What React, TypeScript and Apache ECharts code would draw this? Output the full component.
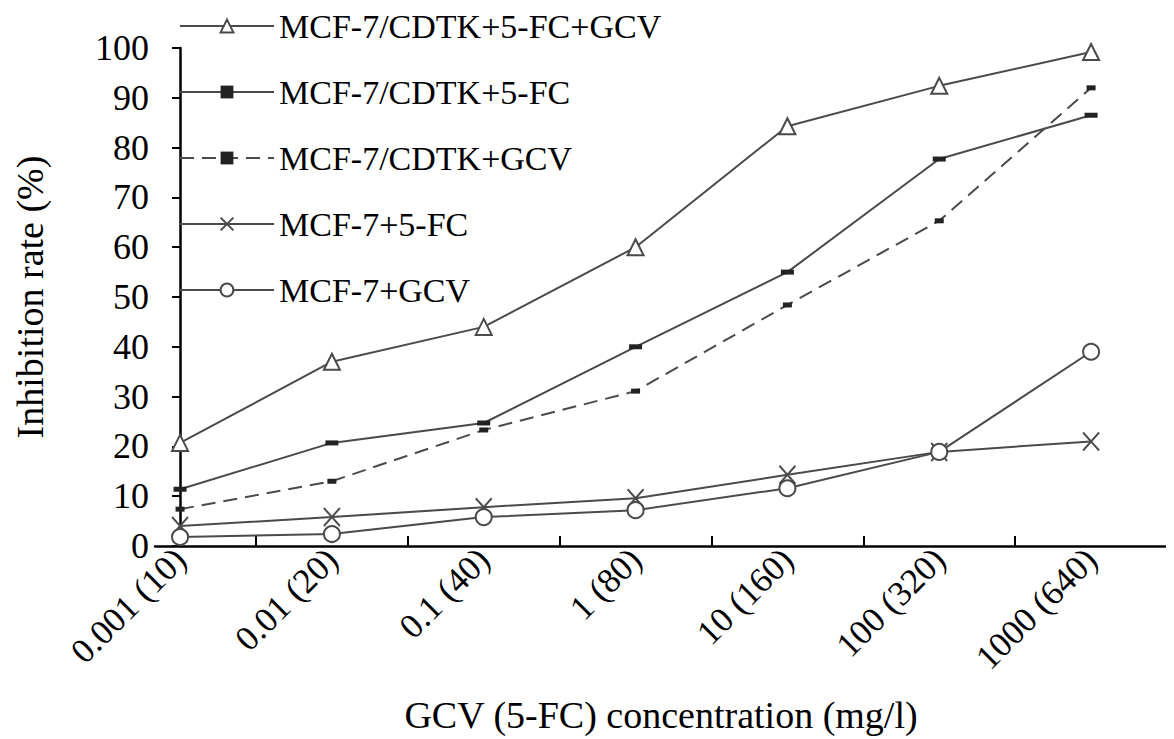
import { useEffect, useRef } from 'react'
import * as echarts from 'echarts'

const categories = ['0.001 (10)', '0.01 (20)', '0.1 (40)', '1 (80)', '10 (160)', '100 (320)', '1000 (640)']
const tickPositions = [0.5, 1.5, 2.5, 3.5, 4.5, 5.5, 6.5]
const seriesNames = ['MCF-7/CDTK+5-FC+GCV', 'MCF-7/CDTK+5-FC', 'MCF-7/CDTK+GCV', 'MCF-7+5-FC', 'MCF-7+GCV']
const cdtk5fcGcv = [20.7, 37, 44, 60, 84.3, 92.4, 99.2]
const cdtk5fc = [11.4, 20.7, 24.7, 40, 55, 77.7, 86.5]
const cdtkGcv = [7.4, 13, 23.3, 31.1, 48.4, 65.3, 92]
const mcf5fc = [4, 5.8, 7.8, 9.6, 14.3, 18.9, 21]
const mcfGcv = [1.8, 2.4, 5.8, 7.2, 11.6, 18.9, 39]

const FONT = '"Liberation Serif", "Times New Roman", serif'
const LINE = '#4a4a4a'

function pts(vals: number[]) {
  return vals.map((v, i) => [i, v])
}

export default function App() {
  const ref = useRef<HTMLDivElement | null>(null)

  useEffect(() => {
    if (!ref.current) return
    const chart = echarts.init(ref.current, null, { renderer: 'svg' })
    const base = {
      type: 'line',
      lineStyle: { color: LINE, width: 2 },
      symbolSize: 16,
    }
    chart.setOption({
      animation: false,
      textStyle: { fontFamily: FONT, color: '#000' },
      grid: { left: 147, right: 7, top: 40, bottom: 193, outerBoundsMode: 'none' },
      legend: {
        orient: 'vertical',
        left: 166,
        top: -4,
        itemWidth: 94,
        itemHeight: 16,
        itemGap: 32,
        textStyle: { fontFamily: FONT, fontSize: 34, color: '#000' },
        data: seriesNames,
      },
      xAxis: {
        type: 'value',
        min: -0.165,
        max: 6.5,
        splitLine: { show: false },
        axisLine: { onZero: false, lineStyle: { color: '#000', width: 2.5 } },
        axisTick: {
          inside: true,
          length: 10,
          customValues: tickPositions,
          lineStyle: { color: '#000', width: 2 },
        },
        axisLabel: {
          customValues: categories.map((_, i) => i),
          formatter: (v: number) => categories[Math.round(v)] ?? '',
          rotate: 45,
          margin: 8,
          fontSize: 35,
          fontFamily: FONT,
          color: '#000',
        },
        name: 'GCV (5-FC) concentration (mg/l)',
        nameLocation: 'middle',
        nameGap: 150,
        nameTextStyle: { fontSize: 38, fontFamily: FONT, color: '#000' },
      },
      yAxis: {
        type: 'value',
        min: 0,
        max: 100,
        interval: 10,
        splitLine: { show: false },
        axisLine: { show: true, lineStyle: { color: '#000', width: 2.5 } },
        axisTick: { show: true, length: 8, lineStyle: { color: '#000', width: 2 } },
        axisLabel: { fontSize: 36, fontFamily: FONT, color: '#000', margin: 6 },
        name: 'Inhibition rate (%)',
        nameLocation: 'middle',
        nameGap: 106,
        nameTextStyle: { fontSize: 38, fontFamily: FONT, color: '#000' },
      },
      series: [
        {
          ...base,
          name: seriesNames[0],
          data: pts(cdtk5fcGcv),
          symbol: 'emptyTriangle',
          itemStyle: { color: LINE, borderWidth: 2 },
        },
        {
          ...base,
          name: seriesNames[1],
          data: pts(cdtk5fc),
          symbol: 'rect',
          symbolSize: [13, 5],
          itemStyle: { color: '#222' },
        },
        {
          ...base,
          name: seriesNames[2],
          data: pts(cdtkGcv),
          symbol: 'rect',
          symbolSize: [9, 5],
          lineStyle: { color: LINE, width: 2, type: [14, 8] },
          itemStyle: { color: '#222' },
        },
        {
          ...base,
          name: seriesNames[3],
          data: pts(mcf5fc),
          symbol: 'path://M0,0L10,12M10,0L0,12',
          symbolSize: [16, 18],
          itemStyle: { color: 'none', borderColor: LINE, borderWidth: 2 },
        },
        {
          ...base,
          name: seriesNames[4],
          data: pts(mcfGcv),
          symbol: 'emptyCircle',
          itemStyle: { color: LINE, borderWidth: 2 },
        },
      ],
    })
    return () => {
      chart.dispose()
    }
  }, [])

  return <div ref={ref} style={{ width: 1166, height: 731 }} />
}
